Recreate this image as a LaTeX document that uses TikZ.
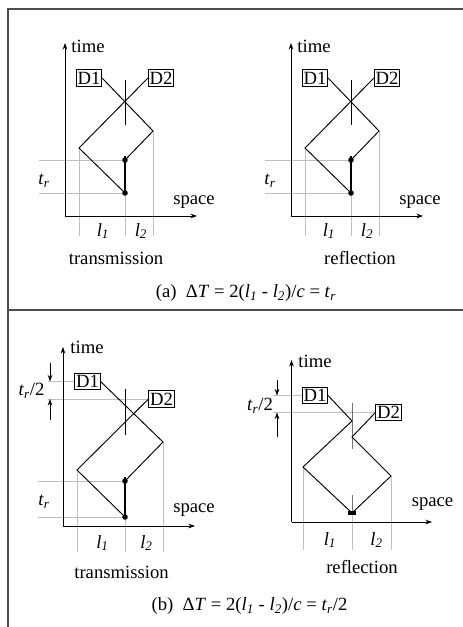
\documentclass[tikz,border=0pt]{standalone}
\usepackage{fontspec}
\setmainfont{Liberation Serif}
\usetikzlibrary{arrows.meta, positioning}

\newcommand{\tsub}[2]{\textit{#1}\textsubscript{\textit{#2}}}

\begin{document}
\begin{tikzpicture}[
  x=0.75pt, y=-0.75pt,
  font=\fontsize{14}{16}\selectfont,
  frame/.style={draw=black!70, line width=1pt},
  axis/.style={draw, line width=0.6pt, -{Stealth[length=5pt,width=3.5pt]}},
  gap/.style={draw, line width=0.6pt, -{Stealth[length=5pt,width=3.5pt]}},
  det/.style={draw, line width=0.5pt, inner xsep=1pt, inner ysep=1.5pt},
  world/.style={draw, line width=0.7pt},
  pulse/.style={draw, line width=1.1pt},
  mirror/.style={draw, line width=0.7pt},
  guide/.style={draw=gray!50, line width=0.5pt},
  hit/.style={circle, fill, inner sep=0pt, minimum size=4.2pt},
  lbl/.style={inner sep=0pt}
]

\useasboundingbox (0,0) rectangle (463,627);

% frame
\draw[frame] (463,9) -- (8,9) -- (8,627);
\draw[frame] (8,310) -- (463,310);

% (a) both paths leave together
\foreach \i/\dx/\kind/\kx in {1/0/transmission/116, 2/226/reflection/134} {
  \begin{scope}[shift={(\dx,0)}]
    \coordinate (o\i) at (65,216);
    \coordinate (ytop\i) at (65,43);
    \coordinate (xend\i) at (197,216);
    \coordinate (gl\i) at (39,236);
    \coordinate (rc\i) at (153,131);
    \coordinate (lc\i) at (79,148);
    \coordinate (up\i) at (125,160);
    \coordinate (lo\i) at (125,193);
    \coordinate (mt\i) at (125,80);
    \coordinate (mb\i) at (125,125);

    \node[det] (Da\i) at (89,78) {D1};
    \node[det] (Db\i) at (161,78) {D2};

    \draw[guide] (up\i -| gl\i) -- (up\i);
    \draw[guide] (lo\i -| gl\i) -- (lo\i);
    \draw[guide] (lc\i) -- (lc\i |- gl\i);
    \draw[guide] (lo\i) -- (lo\i |- gl\i);
    \draw[guide] (rc\i) -- (rc\i |- gl\i);

    \draw[axis] (o\i) -- (ytop\i);
    \draw[axis] (o\i) -- (xend\i);
    \draw[mirror] (mt\i) -- (mb\i);
    \draw[world] (Da\i.east) -- (rc\i) -- (up\i);
    \draw[world] (Db\i.west) -- (lc\i) -- (lo\i);
    \draw[pulse] ([yshift=3pt]up\i) -- (lo\i);
    \node[hit] (hu\i) at (up\i) {};
    \node[hit] (hl\i) at (lo\i) {};

    \node[lbl] (time\i) at (88,46) {time};
    \node[lbl] (space\i) at (194,202) {space};
    \node[lbl] (tr\i) at (44,181) {\tsub{t}{r}};
    \node[lbl] (la\i) at (103,231) {\tsub{l}{1}};
    \node[lbl] (lb\i) at (141,231) {\tsub{l}{2}};
    \node[lbl] (kind\i) at (\kx,258) {\kind};
  \end{scope}
}
\node[lbl] (capa) at (246,293)
  {(a)\ \ Δ\textit{T} = 2(\tsub{l}{1} - \tsub{l}{2})/\textit{c} = \tsub{t}{r}};

% (b) transmission, D1 leaves t_r/2 earlier
\coordinate (o3) at (63,526);
\coordinate (ytop3) at (63,347);
\coordinate (xend3) at (195,526);
\coordinate (gl3) at (38,552);
\coordinate (gg3) at (48,0);
\coordinate (rc3) at (163,442);
\coordinate (lc3) at (77,470);
\coordinate (up3) at (125,481);
\coordinate (lo3) at (125,517);
\coordinate (mt3) at (125,389);
\coordinate (mb3) at (125,435);
\coordinate (at3) at (50,363);
\coordinate (ab3) at (50,420);

\node[det] (Da3) at (87.5,381.5) {D1};
\node[det] (Db3) at (161.5,399) {D2};

\draw[guide] (Da3.west -| gg3) -- (Da3.west);
\draw[guide] (Db3.west -| gg3) -- (Db3.west);
\draw[guide] (up3 -| gl3) -- (up3);
\draw[guide] (lo3 -| gl3) -- (lo3);
\draw[guide] (lc3) -- (lc3 |- gl3);
\draw[guide] (lo3) -- (lo3 |- gl3);
\draw[guide] (rc3) -- (rc3 |- gl3);

\draw[gap] (at3) -- (Da3.west -| at3);
\draw[gap] (ab3) -- (Db3.west -| ab3);
\draw[axis] (o3) -- (ytop3);
\draw[axis] (o3) -- (xend3);
\draw[mirror] (mt3) -- (mb3);
\draw[world] (Da3.east) -- (rc3) -- (up3);
\draw[world] (Db3.west) -- (lc3) -- (lo3);
\draw[pulse] ([yshift=3pt]up3) -- (lo3);
\node[hit] (hu3) at (up3) {};
\node[hit] (hl3) at (lo3) {};

\node[lbl] (time3) at (87,347) {time};
\node[lbl] (space3) at (194,510) {space};
\node[lbl] (half3) at (31.5,391) {\tsub{t}{r}/2};
\node[lbl] (tr3) at (44,502) {\tsub{t}{r}};
\node[lbl] (la3) at (102.5,543) {\tsub{l}{1}};
\node[lbl] (lb3) at (146.5,543) {\tsub{l}{2}};
\node[lbl] (kind3) at (121.5,572) {transmission};

% (b) reflection, both meet at the bottom
\coordinate (o4) at (291.5,522);
\coordinate (ytop4) at (291.5,360);
\coordinate (xend4) at (432,522);
\coordinate (gl4) at (273,550);
\coordinate (ma4) at (352,421);
\coordinate (mb4) at (352,437);
\coordinate (lc4) at (303,467);
\coordinate (rc4) at (391,476);
\coordinate (lo4) at (352,513);
\coordinate (tt4) at (352,403);
\coordinate (tb4) at (352,449);
\coordinate (st4) at (352,495);
\coordinate (at4) at (277,380);
\coordinate (ab4) at (277,437);

\node[det] (Da4) at (315,395.5) {D1};
\node[det] (Db4) at (388.5,412.5) {D2};

\draw[guide] (Da4.west -| gl4) -- (Da4.west);
\draw[guide] (Db4.west -| gl4) -- (Db4.west);
\draw[guide] (lc4) -- (lc4 |- gl4);
\draw[guide] (lo4) -- (lo4 |- gl4);
\draw[guide] (rc4) -- (rc4 |- gl4);

\draw[gap] (at4) -- (Da4.west -| at4);
\draw[gap] (ab4) -- (Db4.west -| ab4);
\draw[axis] (o4) -- (ytop4);
\draw[axis] (o4) -- (xend4);
\draw[mirror, black!55] (tt4) -- (tb4);
\draw[mirror, black!55] (st4) -- (lo4);
\draw[world] (Da4.east) -- (ma4) -- (lc4) -- (lo4);
\draw[world] (Db4.west) -- (mb4) -- (rc4) -- (lo4);
\node[fill, inner sep=0pt, minimum width=6pt, minimum height=3pt] (hl4) at (lo4) {};

\node[lbl] (time4) at (315,361) {time};
\node[lbl] (space4) at (432.5,504) {space};
\node[lbl] (half4) at (260,406) {\tsub{t}{r}/2};
\node[lbl] (la4) at (330,540) {\tsub{l}{1}};
\node[lbl] (lb4) at (376.5,540) {\tsub{l}{2}};
\node[lbl] (kind4) at (362,567) {reflection};

\node[lbl] (capb) at (249.5,606)
  {(b)\ \ Δ\textit{T} = 2(\tsub{l}{1} - \tsub{l}{2})/\textit{c} = \tsub{t}{r}/2};

\end{tikzpicture}
\end{document}
